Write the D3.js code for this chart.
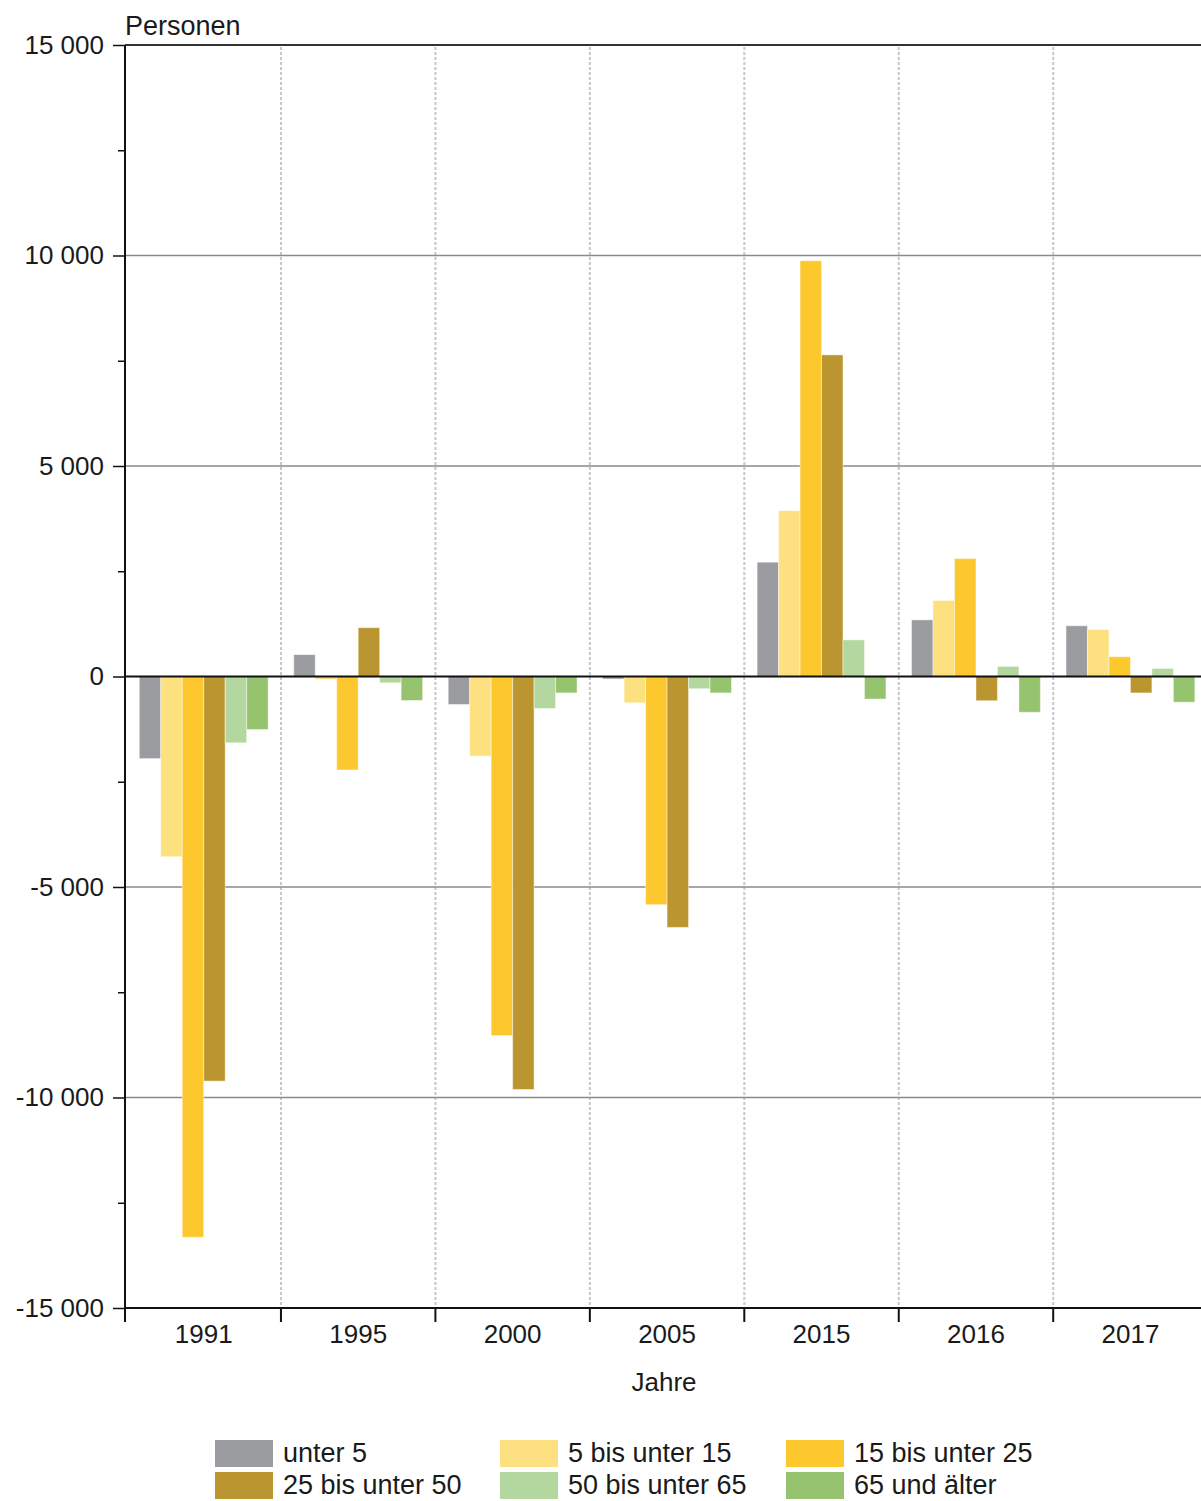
<!DOCTYPE html>
<html><head><meta charset="utf-8">
<script src="https://cdn.jsdelivr.net/npm/d3@7"></script>
<style>body{margin:0;background:#fff}svg{display:block}text{font-family:"Liberation Sans",Arial,sans-serif;fill:#1a1a1a}</style>
</head><body><svg id="c" width="1201" height="1501"></svg>
<script>
const years = ["1991","1995","2000","2005","2015","2016","2017"];
const seriesNames = ["unter 5","5 bis unter 15","15 bis unter 25","25 bis unter 50","50 bis unter 65","65 und älter"];
const colors = ["#9b9ca0","#fde07f","#fdc82e","#bb9630","#b4d7a0","#96c46e"];
const unter5    = [-1950,  520,  -665,   -60, 2715, 1345, 1205];
const bis15     = [-4280,  -70, -1890,  -625, 3940, 1805, 1115];
const bis25     = [-13320,-2220,-8530, -5420, 9875, 2800,  470];
const bis50     = [-9610, 1160, -9810, -5960, 7640, -575, -390];
const bis65     = [-1575, -150,  -760,  -290,  870,  240,  190];
const ab65      = [-1260, -570,  -390,  -390, -535, -850, -610];
const seriesValues = [unter5, bis15, bis25, bis50, bis65, ab65];
const yTicks = [-15000,-10000,-5000,0,5000,10000,15000];
const yMinorTicks = [-12500,-7500,-2500,2500,7500,12500];

(function(){
const svg = d3.select("#c");
const pLeft = 125, pTop = 45, pBottom = 1308, groupW = 154.45, pRight = 1201, gStart = 126.5;
const x = d3.scaleBand().domain(years).range([gStart, gStart + groupW*years.length]).padding(0);
const xi = d3.scaleBand().domain(seriesNames).range([12.8, groupW-12.8]).padding(0);
const y = d3.scaleLinear().domain([-15000,15000]).range([pBottom, pTop]);
const fmt = v => d3.format(",")(v).replace(/,/g, " ").replace("\u2212","-");

const bounds = years.map(d => x(d) + x.bandwidth());
svg.selectAll(".vg").data(bounds).enter().append("line")
  .attr("x1", d=>d).attr("x2", d=>d).attr("y1", pTop+2).attr("y2", pBottom)
  .attr("stroke", "#c6c7cb").attr("stroke-width", 2).attr("stroke-dasharray", "3,2");

svg.selectAll(".hg").data(yTicks.filter(v => v!==0 && Math.abs(v)!==15000)).enter().append("line")
  .attr("x1", pLeft).attr("x2", pRight).attr("y1", d=>y(d)).attr("y2", d=>y(d))
  .attr("stroke", "#8a8a8d").attr("stroke-width", 1.5);

years.forEach((yr, gi) => {
  seriesNames.forEach((s, si) => {
    const v = seriesValues[si][gi];
    svg.append("rect")
      .attr("x", x(yr) + xi(s))
      .attr("width", xi.bandwidth())
      .attr("y", y(Math.max(0, v)))
      .attr("height", Math.abs(y(v) - y(0)))
      .attr("fill", colors[si])
      .attr("stroke", "rgba(255,255,255,0.45)").attr("stroke-width", 1);
  });
});

svg.append("line").attr("x1", pLeft).attr("x2", pRight).attr("y1", y(0)).attr("y2", y(0)).attr("stroke", "#111").attr("stroke-width", 2);
svg.append("line").attr("x1", pLeft).attr("x2", pRight).attr("y1", y(15000)).attr("y2", y(15000)).attr("stroke", "#333").attr("stroke-width", 2);
svg.append("line").attr("x1", pLeft).attr("x2", pRight).attr("y1", y(-15000)).attr("y2", y(-15000)).attr("stroke", "#111").attr("stroke-width", 2);

const yAxis = d3.axisLeft(y).tickValues(yTicks).tickSize(12).tickPadding(9).tickFormat(fmt);
const ga = svg.append("g").attr("transform", `translate(${pLeft},0)`).call(yAxis);
ga.select(".domain").remove();
ga.selectAll(".tick line").attr("stroke", "#111").attr("stroke-width", 1.5);
ga.selectAll(".tick text").attr("font-size", 26).attr("font-family", "Liberation Sans, Arial, sans-serif").attr("fill", "#1a1a1a");
const gm = svg.append("g").attr("transform", `translate(${pLeft},0)`).call(d3.axisLeft(y).tickValues(yMinorTicks).tickSize(7).tickFormat(""));
gm.select(".domain").remove();
gm.selectAll(".tick line").attr("stroke", "#111").attr("stroke-width", 1.5);
svg.append("line").attr("x1", pLeft).attr("x2", pLeft).attr("y1", pTop).attr("y2", pBottom + 14).attr("stroke", "#111").attr("stroke-width", 2);

svg.selectAll(".xt").data(bounds.slice(0,-1)).enter().append("line")
  .attr("x1", d=>d).attr("x2", d=>d).attr("y1", pBottom).attr("y2", pBottom+14)
  .attr("stroke", "#111").attr("stroke-width", 2);
svg.selectAll(".xl").data(years).enter().append("text")
  .attr("x", d => x(d) + x.bandwidth()/2).attr("y", 1343)
  .attr("text-anchor", "middle").attr("font-size", 26).text(d=>d);

svg.append("text").attr("x", 125).attr("y", 35).attr("font-size", 27).text("Personen");
svg.append("text").attr("x", 664).attr("y", 1391).attr("text-anchor", "middle").attr("font-size", 26).text("Jahre");

const legCols = [215, 500, 786];
const legRows = [1440, 1472];
seriesNames.forEach((s, i) => {
  const cx = legCols[i % 3], ry = legRows[Math.floor(i / 3)];
  svg.append("rect").attr("x", cx).attr("y", ry).attr("width", 58).attr("height", 27).attr("fill", colors[i]);
  svg.append("text").attr("x", cx + 68).attr("y", ry + 22).attr("font-size", 27).text(s);
});
})();
</script></body></html>
